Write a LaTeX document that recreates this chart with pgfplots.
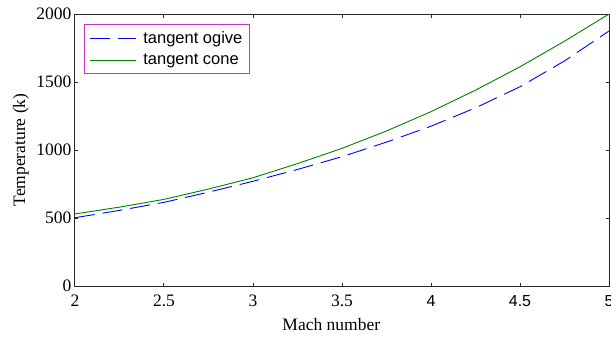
\documentclass[border=0pt]{standalone}
\usepackage{fontspec}
\setmainfont{Liberation Serif}
\setsansfont{Liberation Sans}
\usepackage{pgfplots}
\pgfplotsset{compat=1.18}
\definecolor{ogive}{RGB}{0,0,255}
\definecolor{cone}{RGB}{0,128,0}
\definecolor{legframe}{RGB}{200,50,200}
\definecolor{axcol}{RGB}{40,40,40}
\begin{document}
\begin{tikzpicture}
\begin{axis}[
  at={(0pt,0pt)}, anchor=south west,
  scale only axis, width=534pt, height=272pt,
  xmin=2, xmax=5, ymin=0, ymax=2000,
  xtick={2,2.5,3,3.5,4,4.5,5},
  xticklabels={2,2.5,3,3.5,{\sffamily\fontsize{16}{19}\selectfont 4},{\sffamily\fontsize{16}{19}\selectfont 4.5},{\sffamily\fontsize{16}{19}\selectfont 5}},
  ytick={0,500,1000,1500,2000},
  yticklabels={0,500,1000,1500,2000},
  tick align=inside, major tick length=3.5pt,
  axis line style={axcol, line width=1pt},
  every tick/.style={axcol, line width=1pt},
  /pgf/number format/assume math mode=true,
  tick label style={font=\fontsize{17.5}{21}\selectfont},
  xticklabel style={anchor=base, yshift=-20pt},
  label style={font=\fontsize{17.5}{21}\selectfont},
  xlabel={Mach number},
  ylabel={Temperature (k)},
  xlabel style={at={(axis description cs:0.48,-0.1654)}, anchor=base},
  ylabel style={at={(axis description cs:-0.0936,0.5)}, anchor=base},
  legend style={at={(axis description cs:0.0169,0.963)}, anchor=north west,
    draw=legframe, line width=0.8pt, fill=white,
    font=\sffamily\fontsize{16.5}{19}\selectfont,
    row sep=5pt, inner xsep=5pt, inner ysep=5pt,
    /tikz/every odd column/.append style={column sep=5pt},
    cells={anchor=west}},
  legend image code/.code={\draw[#1] (0pt,0pt) -- (46pt,0pt);},
]
\addplot[ogive, line width=0.9pt, dash pattern=on 20pt off 8pt] coordinates {
(2,502) (2.25,556) (2.5,615) (2.75,690) (3,770) (3.25,857) (3.5,951)
(3.75,1058) (4,1175) (4.25,1310) (4.5,1465) (4.75,1655) (5,1875)};
\addlegendentry{tangent ogive}
\addplot[cone, line width=0.9pt] coordinates {
(2,530) (2.25,580) (2.5,637) (2.75,713) (3,796) (3.25,900) (3.5,1012)
(3.75,1140) (4,1282) (4.25,1440) (4.5,1612) (4.75,1800) (5,2000)};
\addlegendentry{tangent cone}
\end{axis}
\pgfresetboundingbox
\useasboundingbox (-75pt,-55pt) rectangle (536pt,286pt);
\end{tikzpicture}
\end{document}
